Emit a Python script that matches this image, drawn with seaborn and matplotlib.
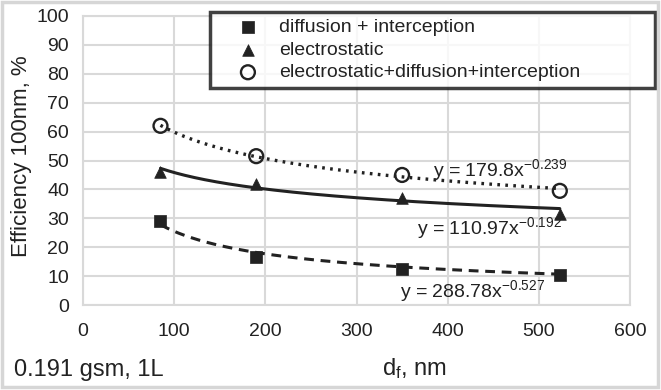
import numpy as np
import pandas as pd
import matplotlib
matplotlib.use('Agg')
import matplotlib.pyplot as plt
from matplotlib.patches import Rectangle
import seaborn as sns

# dados
d_f = [85, 190, 350, 523]
eff_diff = [29, 16.5, 12.5, 10.5]
eff_elec = [46, 42, 37, 31.5]
eff_total = [62, 51.5, 45, 39.5]

# coeficientes das linhas de tendencia (y = a*x^b)
fit_a = [288.78, 110.97, 179.8]
fit_b = [-0.527, -0.192, -0.239]
fit_txt = ['288.78', '110.97', '179.8']
fit_exp = ['-0.527', '-0.192', '-0.239']

labels = ['diffusion + interception', 'electrostatic',
          'electrostatic+diffusion+interception']

sns.set_theme(style='whitegrid')
plt.rcParams['font.family'] = ['Liberation Sans', 'DejaVu Sans']
plt.rcParams['mathtext.default'] = 'regular'

dark = '#222222'
grid = '#d9d9d9'

fig = plt.figure(figsize=(6.61, 3.90), dpi=100)
ax = fig.add_axes([83 / 661, 1 - 305 / 390, 547 / 661, 289 / 390])

data = pd.DataFrame({'d_f': d_f, 'diff': eff_diff, 'elec': eff_elec, 'total': eff_total})
xs = np.linspace(min(d_f), max(d_f), 200)

styles = [('diff', 's', (0, (3.2, 2.2)), 2.2, 'full'),
          ('elec', '^', '-', 2.2, 'full'),
          ('total', 'o', (0, (0.8, 1.6)), 2.4, 'none')]

for i, (col, mk, ls, lw, fill) in enumerate(styles):
    fit = pd.DataFrame({'x': xs, 'y': fit_a[i] * xs ** fit_b[i]})
    sns.lineplot(data=fit, x='x', y='y', ax=ax, color=dark, linestyle=ls, linewidth=lw,
                 legend=False)
    if fill == 'none':
        sns.scatterplot(data=data, x='d_f', y=col, ax=ax, marker='o', s=100,
                        facecolor='none', edgecolor=dark, linewidth=1.7,
                        label=labels[i], zorder=4)
    else:
        sns.scatterplot(data=data, x='d_f', y=col, ax=ax, marker=mk, s=70,
                        color=dark, edgecolor=dark, linewidth=0.5,
                        label=labels[i], zorder=4)

ax.set_xlim(0, 600)
ax.set_ylim(0, 100)
ax.set_xticks(range(0, 601, 100))
ax.set_yticks(range(0, 101, 10))
ax.grid(True, color=grid, linewidth=1.5)
for s in ax.spines.values():
    s.set_color(grid)
    s.set_linewidth(1.5)
ax.tick_params(labelsize=14, colors=dark, length=0)
ax.tick_params(axis='x', pad=13)
ax.tick_params(axis='y', pad=10)
ax.set_xlabel('')
ax.set_ylabel('')

# equacoes
eq_pos = [(348, 2.8), (366, 24.6), (384, 44.6)]
for i in range(3):
    ax.text(eq_pos[i][0], eq_pos[i][1],
            'y = ' + fit_txt[i] + 'x$^{' + fit_exp[i] + '}$',
            fontsize=14, color=dark, va='baseline', ha='left', zorder=5)

leg = ax.legend(loc='upper left', bbox_to_anchor=(210 / 661, 1 - 83 / 390, 445 / 661, 71 / 390),
                bbox_transform=fig.transFigure, mode='expand', fontsize=14, frameon=True,
                fancybox=False, handletextpad=0.0, labelspacing=0.25, borderpad=0.35,
                handlelength=3.2, borderaxespad=0)
leg.get_frame().set_edgecolor('#111111')
leg.get_frame().set_linewidth(2.5)
for t in leg.get_texts():
    t.set_color(dark)

fig.text(22 / 661, 1 - 156 / 390, 'Efficiency 100nm, %', rotation=90, fontsize=16,
         color=dark, ha='center', va='center')
fig.text(415 / 661, 1 - 369 / 390, 'd$_f$, nm', fontsize=17, color=dark,
         ha='center', va='center')
fig.text(14 / 661, 1 - 370 / 390, '0.191 gsm, 1L', fontsize=17, color=dark,
         ha='left', va='center')

fig.add_artist(Rectangle((2 / 661, 3 / 390), 656 / 661, 385 / 390, transform=fig.transFigure,
                         fill=False, edgecolor='#d6d6d6', linewidth=2.5))

fig.savefig('out.png', dpi=100)
